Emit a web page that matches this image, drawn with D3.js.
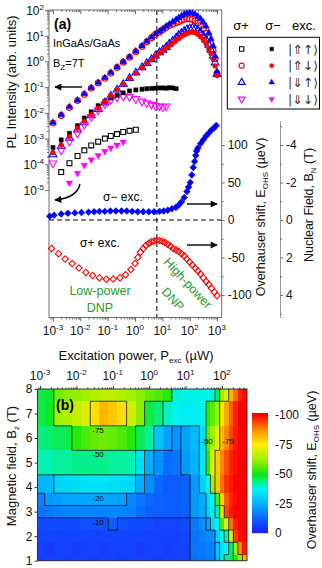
<!DOCTYPE html>
<html>
<head>
<meta charset="utf-8">
<script src="https://cdn.jsdelivr.net/npm/d3@7"></script>
<style>
  body { margin: 0; background: #fff; }
  svg { display: block; font-family: "Liberation Sans", Arial, sans-serif; }
</style>
</head>
<body>
<svg id="fig" width="322" height="568"></svg>
<script>
// ---- panel (a): PL intensity vs excitation power (uW), Bz = 7 T ----
const plPower = [0.001, 0.002, 0.004, 0.0079, 0.014, 0.025, 0.045, 0.079, 0.13, 0.22, 0.37, 0.63, 1.07, 1.8, 2.7, 4.0,
  5.6, 7.9, 10.5, 13.8, 18, 24, 32, 40, 50, 63, 79, 100, 126, 158, 200, 251, 316, 398, 501, 603, 724, 851, 1000];

// sigma+ excitation (open symbols)
const plUpUpPlus = [null, 5.0e-5, 1.1e-4, 2.1e-4, 3.5e-4, 5.4e-4, 7.6e-4, 1.0e-3, 1.26e-3, 1.5e-3, 1.8e-3, 2.0e-3, 2.2e-3];
const plUpDownPlus = [4.0e-3, 7.9e-3, 1.6e-2, 3.0e-2, 5.2e-2, 9.1e-2, 0.145, 0.22, 0.35, 0.58, 0.93, 1.45, 2.4, 3.8, 5.8, 8.3,
  11.2, 14, 17.4, 21, 25, 28, 32, 35, 40, 43, 45, 45, 43, 38, 32, 25, 18.6, 12.6, 7.9, 4.8, 2.6, 1.26, 0.35];
const plDownUpPlus = [2.4e-4, 5.0e-4, 1.05e-3, 2.2e-3, 4.2e-3, 7.9e-3, 1.4e-2, 2.5e-2, 4.5e-2, 7.9e-2, 0.13, 0.22, 0.36, 0.58, 0.85, 1.2,
  1.66, 2.24, 2.8, 3.6, 4.8, 6.3, 8.3, 10.5, 12.6, 14.8, 17.4, 19, 20, 19, 16.6, 13.2, 10, 6.9, 4.4, 2.8, 1.66, 0.89, 0.32];
const plDownDownPlus = [1.1e-4, 3.5e-4, 7.9e-4, 1.6e-3, 3.5e-3, 7.1e-3, 1.26e-2, 2.2e-2, 3.2e-2, 4.0e-2, 4.4e-2, 4.2e-2, 3.5e-2, 2.8e-2,
  2.4e-2, 2.1e-2, 1.9e-2, 1.8e-2, 1.7e-2, 1.8e-2];

// sigma- excitation (filled symbols)
const plUpUpMinus = [4.5e-4, 8.9e-4, 1.6e-3, 3.2e-3, 6.3e-3, 1.1e-2, 1.9e-2, 2.8e-2, 3.8e-2, 4.8e-2, 6.0e-2, 7.1e-2, 7.8e-2, 8.3e-2,
  8.7e-2, 8.9e-2, 9.1e-2, 9.3e-2, 9.3e-2, 9.1e-2, 9.5e-2, 9.3e-2, 8.7e-2];
const plUpDownMinus = [2.8e-4, 5.6e-4, 1.2e-3, 2.5e-3, 4.7e-3, 8.5e-3, 1.5e-2, 2.7e-2, 4.7e-2, 7.9e-2, 0.13, 0.22, 0.35, 0.56, 0.83, 1.17,
  1.58, 2.1, 2.6, 3.3, 4.2, 5.2, 6.6, 7.9, 9.3, 10.7, 12, 13.2, 13.5, 12.9, 11.2, 9.1, 6.9, 4.8, 3.0, 2.0, 1.2, 0.66, 0.28];
const plDownUpMinus = [4.2e-3, 8.3e-3, 1.7e-2, 3.1e-2, 5.5e-2, 9.5e-2, 0.15, 0.23, 0.37, 0.6, 0.97, 1.5, 2.5, 4.0, 6.0, 8.7,
  11.7, 14.6, 18, 23, 28, 35, 42, 50, 59, 68, 72, 76, 74, 68, 56, 45, 33, 23, 13, 7.6, 4.0, 1.6, 0.4];
const plDownDownMinus = [null, null, 1.9e-5, 4.5e-5, 9.3e-5, 1.5e-4, 2.2e-4, 3.2e-4, 4.3e-4, 5.6e-4, 7.4e-4];

// Overhauser shift (ueV) vs power
const ohsPowerMinus = [7.6e-4, 1.1e-3, 2.0e-3, 3.5e-3, 6.3e-3, 1.1e-2, 2.0e-2, 3.2e-2, 5.0e-2, 7.9e-2, 0.126, 0.2, 0.32, 0.5, 0.79,
  1.26, 2.0, 3.2, 5.0, 7.9, 11.2, 15.8, 22.4, 31.6, 39.8, 50, 63, 79, 91, 105, 120, 135, 151, 166, 178, 200, 251, 316, 398, 501, 631, 794, 933];
const ohsMinus = [5, 6.5, 8, 9, 9.5, 10, 10.5, 11, 11.5, 11.5, 12, 12, 12, 12, 11.5, 11, 11, 11, 11, 11.5,
  12, 13, 15, 17, 20, 24, 30, 38, 44, 50, 60, 70, 78, 86, 92, 96, 102, 107, 112, 116, 120, 123, 126];
const ohsPowerPlus = [8.9e-4, 1.6e-3, 2.8e-3, 5.0e-3, 8.9e-3, 1.6e-2, 2.8e-2, 5.0e-2, 8.9e-2, 0.16, 0.28, 0.45, 0.71, 1.0, 1.26,
  1.58, 2.0, 2.5, 3.2, 4.0, 5.0, 6.3, 7.9, 10, 12.6, 15.8, 20, 25, 32, 40, 50, 63, 79, 100, 126, 158, 200, 251, 316, 398, 501, 631, 794, 1000];
const ohsPlus = [-38, -45, -52, -58, -64, -70, -74, -77, -79, -78.5, -77, -73, -66, -58, -50, -43, -38, -34, -31, -29,
  -28, -27, -27.5, -28.5, -30, -32.5, -35, -38, -40, -42, -45, -48, -52, -56, -60, -64, -68, -72, -77, -82, -86, -91, -96, -101];

const dnpPower = 6.3; // dashed line separating low/high power DNP

// ---- panel (b): Overhauser shift map (ueV) ----
const mapPower = [0.001, 0.0018, 0.0032, 0.0056, 0.01, 0.018, 0.032, 0.056, 0.1, 0.18, 0.32, 0.56, 1, 1.8,
  3.2, 5.6, 10, 18, 32, 42, 56, 75, 100, 133, 178, 237, 316, 422];
const mapField = [8, 7, 6, 5, 4, 3.5, 3, 2.5, 2, 1.5, 1];
const ohs8T = [-47, -48, -58, -60, -61, -62, -64, -66, -66, -64, -62, -60, -57, -55, -52, -39, -38, -38, -38, -38, -39, -46, -62, -70, -82, -90, -97, -99];
const ohs7T = [-47, -49, -62, -64, -67, -70, -77, -82, -80, -77, -68, -60, -47, -44, -40, -37, -36, -36, -37, -52, -56, -62, -76, -84, -92, -97, -100, -100];
const ohs6T = [-44, -45, -46, -47, -52, -55, -57, -58, -57, -55, -52, -46, -42, -28, -22, -20, -22, -26, -34, -56, -62, -72, -82, -88, -94, -98, -100, -100];
const ohs5T = [-41, -41, -42, -42, -43, -43, -43, -43, -42, -42, -41, -34, -24, -20, -14, -15, -21, -25, -35, -52, -70, -80, -88, -93, -97, -99, -100, -100];
const ohs4T = [-25, -26, -31, -32, -33, -34, -34, -34, -33, -33, -32, -24, -19, -13, -11, -11, -12, -21, -31, -38, -62, -80, -90, -96, -98, -100, -100, -100];
const ohs3p5T = [-17, -21, -22, -23, -23, -23, -23, -23, -23, -22, -18, -15, -13, -12, -11, -11, -12, -21, -24, -33, -38, -55, -78, -92, -97, -99, -100, -100];
const ohs3T = [-15, -16, -17, -18, -18, -18, -18, -18, -18, -18, -17, -14, -12, -12, -11, -11, -12, -21, -23, -31, -36, -42, -72, -94, -98, -100, -100, -100];
const ohs2p5T = [-8, -8, -8, -8, -8, -9, -9, -9, -11, -9, -8, -8, -8, -7, -7, -7, -8, -16, -19, -22, -33, -37, -55, -70, -90, -98, -100, -100];
const ohs2T = [-7, -7, -6, -7, -7, -7, -6, -7, -7, -7, -7, -7, -6, -6, -6, -6, -7, -15, -17, -18, -19, -31, -38, -42, -72, -95, -99, -100];
const ohs1p5T = [-6, -5, -6, -6, -5, -6, -6, -5, -6, -6, -6, -5, -6, -6, -5, -6, -6, -15, -16, -17, -17, -28, -35, -37, -45, -62, -88, -98];
const ohs1T = [-5, -6, -6, -5, -6, -6, -5, -6, -6, -5, -6, -6, -6, -5, -6, -6, -6, -14, -15, -16, -16, -27, -40, -43, -46, -52, -62, -82];
const contourLevels = [-10, -20, -30, -40, -50, -75];

const svg = d3.select('#fig');
const axisGrey = '#6e6e6e';
const ink = '#111';
const green = '#2a9a2a';

const defs = svg.append('defs');
defs.append('marker').attr('id', 'ah').attr('viewBox', '0 0 10 10').attr('refX', 9).attr('refY', 5)
  .attr('markerUnits', 'userSpaceOnUse').attr('markerWidth', 8).attr('markerHeight', 7).attr('orient', 'auto')
  .append('path').attr('d', 'M0,0L10,5L0,10z').attr('fill', '#000');

// log ticks for a range of exponents
function logTicks(lo, hi) {
  const major = [], minor = [];
  for (let k = Math.floor(lo); k <= Math.ceil(hi); k++) {
    for (let m = 1; m < 10; m++) {
      const e = Math.log10(m) + k;
      if (e < lo - 1e-9 || e > hi + 1e-9) continue;
      (m === 1 ? major : minor).push(m * Math.pow(10, k));
    }
  }
  return { major, minor };
}

function powLabel(g, x, y, v, anchor) {
  const k = Math.round(Math.log10(v));
  const t = g.append('text').attr('x', x).attr('y', y).attr('text-anchor', anchor)
    .attr('font-size', 12).attr('fill', ink);
  t.append('tspan').text('10');
  t.append('tspan').attr('font-size', 8).attr('dy', -5).text(k);
}

function styleAxis(g, color) {
  g.select('.domain').remove();
  g.selectAll('line').attr('stroke', color);
}

const shapeType = { circle: d3.symbolCircle, square: d3.symbolSquare, triUp: d3.symbolTriangle, triDown: d3.symbolTriangle, diamond: d3.symbolSquare };
const shapeSize = { circle: 26, square: 24, triUp: 26, triDown: 26, diamond: 20 };
const shapeRot = { circle: 0, square: 0, triUp: 0, triDown: 180, diamond: 45 };
function symPath(shape, scale) {
  return d3.symbol().type(shapeType[shape]).size(shapeSize[shape] * scale)();
}

// =================== panel (a) ===================
const ax = { left: 49, right: 221.7, top: 10, bottom: 317.5 };
const xA = d3.scaleLog().domain([Math.pow(10, -3.146), Math.pow(10, 3.171)]).range([ax.left, ax.right]);
const yI = d3.scaleLog().domain([1e2, 1e-5]).range([10, 190]);
const yE = d3.scaleLinear().domain([-130, 280]).range([ax.bottom, ax.top]);
const yBN = d3.scaleLinear().domain([-5.3, 5.2]).range([120.6, ax.bottom]);

const gA = svg.append('g');

// dashed guides
gA.append('line').attr('x1', ax.left).attr('x2', ax.right).attr('y1', yE(0)).attr('y2', yE(0))
  .attr('stroke', '#000').attr('stroke-dasharray', '5,3').attr('stroke-width', 1);
gA.append('line').attr('x1', xA(dnpPower)).attr('x2', xA(dnpPower)).attr('y1', ax.top).attr('y2', ax.bottom)
  .attr('stroke', '#000').attr('stroke-dasharray', '5,3').attr('stroke-width', 1);

// bottom / top axes
const xtA = logTicks(-3.146, 3.171);
gA.append('g').attr('transform', `translate(0,${ax.bottom})`)
  .call(d3.axisBottom(xA).tickValues(xtA.major).tickSize(4).tickFormat(''))
  .call(g => styleAxis(g, axisGrey));
gA.append('g').attr('transform', `translate(0,${ax.bottom})`)
  .call(d3.axisBottom(xA).tickValues(xtA.minor).tickSize(2).tickFormat(''))
  .call(g => styleAxis(g, axisGrey));
gA.append('g').attr('transform', `translate(0,${ax.top})`)
  .call(d3.axisTop(xA).tickValues(xtA.major).tickSize(-4).tickFormat(''))
  .call(g => styleAxis(g, axisGrey));
gA.append('g').attr('transform', `translate(0,${ax.top})`)
  .call(d3.axisTop(xA).tickValues(xtA.minor).tickSize(-2).tickFormat(''))
  .call(g => styleAxis(g, axisGrey));
xtA.major.forEach(v => powLabel(gA, xA(v), 335, v, 'middle'));

// left intensity axis
const ytA = logTicks(-5, 2);
gA.append('g').attr('transform', `translate(${ax.left},0)`)
  .call(d3.axisLeft(yI).tickValues(ytA.major).tickSize(4).tickFormat(''))
  .call(g => styleAxis(g, axisGrey));
gA.append('g').attr('transform', `translate(${ax.left},0)`)
  .call(d3.axisLeft(yI).tickValues(ytA.minor).tickSize(2).tickFormat(''))
  .call(g => styleAxis(g, axisGrey));
ytA.major.forEach(v => powLabel(gA, 44, yI(v) + 5, v, 'end'));

// right: Overhauser shift axis
gA.append('g').attr('transform', `translate(${ax.right},0)`)
  .call(d3.axisRight(yE).tickValues([-100, -50, 0, 50, 100]).tickSize(3).tickPadding(3).tickFormat(d => d))
  .call(g => styleAxis(g, axisGrey))
  .call(g => g.selectAll('text').attr('font-size', 12).attr('fill', ink).attr('font-family', null));
gA.append('g').attr('transform', `translate(${ax.right},0)`)
  .call(d3.axisRight(yE).tickValues([-75, -25, 25, 75]).tickSize(2).tickFormat(''))
  .call(g => styleAxis(g, axisGrey));

// nuclear field axis
gA.append('g').attr('transform', 'translate(280,0)')
  .call(d3.axisRight(yBN).tickValues([-4, -2, 0, 2, 4]).tickSize(3).tickSizeOuter(0).tickPadding(3).tickFormat(d => d))
  .call(g => g.select('.domain').attr('stroke', '#999'))
  .call(g => g.selectAll('line').attr('stroke', axisGrey))
  .call(g => g.selectAll('text').attr('font-size', 12).attr('fill', ink).attr('font-family', null));
gA.append('g').attr('transform', 'translate(280,0)')
  .call(d3.axisRight(yBN).tickValues([-5, -3, -1, 1, 3, 5]).tickSize(2).tickFormat(''))
  .call(g => styleAxis(g, axisGrey));

// frame
gA.append('rect').attr('x', ax.left).attr('y', ax.top).attr('width', ax.right - ax.left).attr('height', ax.bottom - ax.top)
  .attr('fill', 'none').attr('stroke', axisGrey).attr('stroke-width', 1);

// PL series: open symbols first, then filled
const plSeries = [
  { vals: plUpUpPlus, shape: 'square', color: '#000', fill: false },
  { vals: plUpDownPlus, shape: 'circle', color: '#ff0000', fill: false },
  { vals: plDownUpPlus, shape: 'triUp', color: '#0000ff', fill: false },
  { vals: plDownDownPlus, shape: 'triDown', color: '#ff00ff', fill: false },
  { vals: plUpUpMinus, shape: 'square', color: '#000', fill: true },
  { vals: plUpDownMinus, shape: 'circle', color: '#ff0000', fill: true },
  { vals: plDownUpMinus, shape: 'triUp', color: '#0000ff', fill: true },
  { vals: plDownDownMinus, shape: 'triDown', color: '#ff00ff', fill: true }
];
const gPts = gA.append('g');
plSeries.forEach(s => {
  const pts = plPower.map((p, i) => [p, s.vals[i]]).filter(d => d[1] != null);
  gPts.selectAll(null).data(pts).join('path')
    .attr('d', symPath(s.shape, s.fill ? 0.75 : 1))
    .attr('transform', d => `translate(${xA(d[0])},${yI(d[1])}) rotate(${shapeRot[s.shape]})`)
    .attr('fill', s.fill ? s.color : 'none')
    .attr('stroke', s.color)
    .attr('stroke-width', s.fill ? 0.4 : 1.1);
});

// Overhauser shift series
gPts.selectAll(null).data(ohsPowerPlus.map((p, i) => [p, ohsPlus[i]])).join('path')
  .attr('d', symPath('diamond', 1))
  .attr('transform', d => `translate(${xA(d[0])},${yE(d[1])}) rotate(45)`)
  .attr('fill', 'none').attr('stroke', '#ff0000').attr('stroke-width', 1.1);
gPts.selectAll(null).data(ohsPowerMinus.map((p, i) => [p, ohsMinus[i]])).join('path')
  .attr('d', symPath('diamond', 1.15))
  .attr('transform', d => `translate(${xA(d[0])},${yE(d[1])}) rotate(45)`)
  .attr('fill', '#0000ff').attr('stroke', '#0000ff').attr('stroke-width', 0.4);

// annotations
gA.append('text').attr('x', 54).attr('y', 29).attr('font-size', 14).attr('font-weight', 'bold').text('(a)');
gA.append('text').attr('x', 53).attr('y', 47).attr('font-size', 11).text('InGaAs/GaAs');
const bz = gA.append('text').attr('x', 53).attr('y', 67).attr('font-size', 11);
bz.append('tspan').text('B');
bz.append('tspan').attr('font-size', 8).attr('dy', 3).text('Z');
bz.append('tspan').attr('dy', -3).text('=7T');

const arrow = (x1, y1, x2, y2) => gA.append('line').attr('x1', x1).attr('y1', y1).attr('x2', x2).attr('y2', y2)
  .attr('stroke', '#000').attr('stroke-width', 1.4).attr('marker-end', 'url(#ah)');
arrow(82, 87, 55, 87);
arrow(187, 204, 217, 204);
arrow(187, 245, 217, 245);
gA.append('path').attr('d', 'M80,184 Q77,198 55,200').attr('fill', 'none').attr('stroke', '#000')
  .attr('stroke-width', 1.4).attr('marker-end', 'url(#ah)');

gA.append('text').attr('x', 103).attr('y', 201).attr('font-size', 12).text('σ− exc.');
gA.append('text').attr('x', 80).attr('y', 247).attr('font-size', 12).text('σ+ exc.');
gA.append('text').attr('x', 100).attr('y', 295).attr('font-size', 12.5).attr('text-anchor', 'middle').attr('fill', green).text('Low-power');
gA.append('text').attr('x', 100).attr('y', 312).attr('font-size', 12.5).attr('text-anchor', 'middle').attr('fill', green).text('DNP');
gA.append('text').attr('transform', 'translate(188,283) rotate(47)').attr('font-size', 12.5).attr('text-anchor', 'middle')
  .attr('dy', '0.35em').attr('fill', green).text('High-power');
gA.append('text').attr('transform', 'translate(173,299) rotate(47)').attr('font-size', 12.5).attr('text-anchor', 'middle')
  .attr('dy', '0.35em').attr('fill', green).text('DNP');

// axis titles
gA.append('text').attr('transform', 'translate(16,82) rotate(-90)').attr('text-anchor', 'middle')
  .attr('font-size', 13).attr('fill', ink).text('PL Intensity (arb. units)');
const xt = gA.append('text').attr('x', 136).attr('y', 360).attr('text-anchor', 'middle').attr('font-size', 13).attr('fill', ink);
xt.append('tspan').text('Excitation power, P');
xt.append('tspan').attr('font-size', 8).attr('dy', 3).text('exc');
xt.append('tspan').attr('dy', -3).text(' (µW)');
const ot = gA.append('text').attr('transform', 'translate(265,217) rotate(-90)').attr('text-anchor', 'middle').attr('font-size', 12.5).attr('fill', ink);
ot.append('tspan').text('Overhauser shift, E');
ot.append('tspan').attr('font-size', 8).attr('dy', 3).text('OHS');
ot.append('tspan').attr('dy', -3).text(' (µeV)');
const nt = gA.append('text').attr('transform', 'translate(313,205) rotate(-90)').attr('text-anchor', 'middle').attr('font-size', 12.5).attr('fill', ink);
nt.append('tspan').text('Nuclear Field, B');
nt.append('tspan').attr('font-size', 8).attr('dy', 3).text('N');
nt.append('tspan').attr('dy', -3).text(' (T)');

// legend
const legendRows = [
  { shape: 'square', color: '#000', label: '|⇑↑⟩' },
  { shape: 'circle', color: '#ff0000', label: '|⇑↓⟩' },
  { shape: 'triUp', color: '#0000ff', label: '|⇓↑⟩' },
  { shape: 'triDown', color: '#ff00ff', label: '|⇓↓⟩' }
];
const gL = svg.append('g');
gL.append('text').attr('x', 241).attr('y', 30).attr('text-anchor', 'middle').attr('font-size', 13).text('σ+');
gL.append('text').attr('x', 273).attr('y', 30).attr('text-anchor', 'middle').attr('font-size', 13).text('σ−');
gL.append('text').attr('x', 304).attr('y', 30).attr('text-anchor', 'middle').attr('font-size', 13).text('exc.');
gL.append('rect').attr('x', 227.3).attr('y', 37.3).attr('width', 92.2).attr('height', 71.7)
  .attr('fill', '#fff').attr('stroke', '#000').attr('stroke-width', 1);
legendRows.forEach((r, i) => {
  const y = 49 + i * 16.7;
  gL.append('path').attr('d', symPath(r.shape, 0.8)).attr('transform', `translate(241.7,${y}) rotate(${shapeRot[r.shape]})`)
    .attr('fill', 'none').attr('stroke', r.color).attr('stroke-width', 1.1);
  gL.append('path').attr('d', symPath(r.shape, 0.55)).attr('transform', `translate(271.7,${y}) rotate(${shapeRot[r.shape]})`)
    .attr('fill', r.color).attr('stroke', r.color).attr('stroke-width', 0.4);
  gL.append('text').attr('x', 288).attr('y', y + 4.5).attr('font-size', 12.5)
    .attr('font-family', '"DejaVu Sans", sans-serif').attr('fill', '#333').text(r.label);
});

// =================== panel (b) ===================
const bx = { left: 37.5, right: 247, top: 389, bottom: 560.7 };
const xB = d3.scaleLog().domain([Math.pow(10, -3.07), Math.pow(10, 2.69)]).range([bx.left, bx.right]);
const yBz = d3.scaleLinear().domain([1, 8]).range([bx.bottom, bx.top]);
const ohsColor = d3.scaleLinear()
  .domain([0, -12.5, -25, -37.5, -50, -62.5, -75, -87.5, -100])
  .range(['#1e1eff', '#0a64ff', '#00b4ff', '#00f5f0', '#10e810', '#a6f000', '#ffee00', '#ff8c00', '#ff0000'])
  .clamp(true);

const mapRows = [ohs8T, ohs7T, ohs6T, ohs5T, ohs4T, ohs3p5T, ohs3T, ohs2p5T, ohs2T, ohs1p5T, ohs1T];
const pEdges = [xB.domain()[0]];
for (let i = 1; i < mapPower.length; i++) pEdges.push(Math.sqrt(mapPower[i - 1] * mapPower[i]));
pEdges.push(xB.domain()[1]);
const bEdges = [8];
for (let i = 1; i < mapField.length; i++) bEdges.push((mapField[i - 1] + mapField[i]) / 2);
bEdges.push(1);

const gB = svg.append('g');
const cells = [];
mapRows.forEach((row, r) => row.forEach((v, c) => cells.push({ r, c, v })));
gB.selectAll('rect.cell').data(cells).join('rect').attr('class', 'cell')
  .attr('x', d => xB(pEdges[d.c]))
  .attr('y', d => yBz(bEdges[d.r]))
  .attr('width', d => xB(pEdges[d.c + 1]) - xB(pEdges[d.c]) + 0.4)
  .attr('height', d => yBz(bEdges[d.r + 1]) - yBz(bEdges[d.r]) + 0.4)
  .attr('fill', d => ohsColor(d.v))
  .attr('shape-rendering', 'crispEdges');

// stepped contour lines along cell borders
const segs = [];
const crosses = (a, b) => contourLevels.some(L => (a < L) !== (b < L));
mapRows.forEach((row, r) => row.forEach((v, c) => {
  if (c + 1 < row.length && crosses(v, row[c + 1])) {
    const x = xB(pEdges[c + 1]);
    segs.push(`M${x},${yBz(bEdges[r])}V${yBz(bEdges[r + 1])}`);
  }
  if (r + 1 < mapRows.length && crosses(v, mapRows[r + 1][c])) {
    const y = yBz(bEdges[r + 1]);
    segs.push(`M${xB(pEdges[c])},${y}H${xB(pEdges[c + 1])}`);
  }
}));
gB.append('path').attr('d', segs.join('')).attr('fill', 'none').attr('stroke', '#111')
  .attr('stroke-width', 0.9).attr('stroke-opacity', 0.85);

const contourLabels = [
  { x: 98, y: 430, t: '-75' }, { x: 98, y: 454, t: '-50' }, { x: 98, y: 498, t: '-20' },
  { x: 98, y: 522, t: '-10' }, { x: 207, y: 441, t: '-50' }, { x: 228, y: 441, t: '-75' }
];
gB.selectAll('text.cl').data(contourLabels).join('text').attr('class', 'cl')
  .attr('x', d => d.x).attr('y', d => d.y + 3).attr('text-anchor', 'middle')
  .attr('font-size', 8).attr('fill', '#111').text(d => d.t);

gB.append('rect').attr('x', bx.left).attr('y', bx.top).attr('width', bx.right - bx.left).attr('height', bx.bottom - bx.top)
  .attr('fill', 'none').attr('stroke', '#333').attr('stroke-width', 1);

const xtB = logTicks(-3.07, 2.69);
gB.append('g').attr('transform', `translate(0,${bx.top})`)
  .call(d3.axisTop(xB).tickValues(xtB.major).tickSize(3).tickFormat(''))
  .call(g => styleAxis(g, '#333'));
gB.append('g').attr('transform', `translate(0,${bx.top})`)
  .call(d3.axisTop(xB).tickValues(xtB.minor).tickSize(1.5).tickFormat(''))
  .call(g => styleAxis(g, '#333'));
xtB.major.forEach(v => powLabel(gB, xB(v), 380, v, 'middle'));

gB.append('g').attr('transform', `translate(${bx.left},0)`)
  .call(d3.axisLeft(yBz).tickValues([1, 2, 3, 4, 5, 6, 7, 8]).tickSize(3).tickPadding(2).tickFormat(d3.format('d')))
  .call(g => styleAxis(g, '#333'))
  .call(g => g.selectAll('text').attr('font-size', 12).attr('fill', ink).attr('font-family', null));

gB.append('text').attr('x', 56).attr('y', 410).attr('font-size', 14).attr('font-weight', 'bold').text('(b)');

const mt = gB.append('text').attr('transform', 'translate(16,466) rotate(-90)').attr('text-anchor', 'middle').attr('font-size', 13).attr('fill', ink);
mt.append('tspan').text('Magnetic field, B');
mt.append('tspan').attr('font-size', 8).attr('dy', 3).text('z');
mt.append('tspan').attr('dy', -3).text(' (T)');

// colour bar
const cbY = d3.scaleLinear().domain([0, -100]).range([533, 415]);
const cbRows = d3.range(413, 533);
gB.selectAll('rect.cb').data(cbRows).join('rect').attr('class', 'cb')
  .attr('x', 252).attr('y', d => d).attr('width', 16).attr('height', 1.2)
  .attr('fill', d => ohsColor(cbY.invert(d + 0.5)));
gB.append('g').attr('transform', 'translate(268,0)')
  .call(d3.axisRight(cbY).tickValues([0, -25, -50, -75, -100]).tickSize(0).tickPadding(7).tickFormat(d => d))
  .call(g => g.select('.domain').remove())
  .call(g => g.selectAll('text').attr('font-size', 12).attr('fill', ink).attr('font-family', null));
const ct = gB.append('text').attr('transform', 'translate(316,470) rotate(-90)').attr('text-anchor', 'middle').attr('font-size', 12.5).attr('fill', ink);
ct.append('tspan').text('Overhauser shift, E');
ct.append('tspan').attr('font-size', 8).attr('dy', 3).text('OHS');
ct.append('tspan').attr('dy', -3).text(' (µeV)');
</script>
</body>
</html>
